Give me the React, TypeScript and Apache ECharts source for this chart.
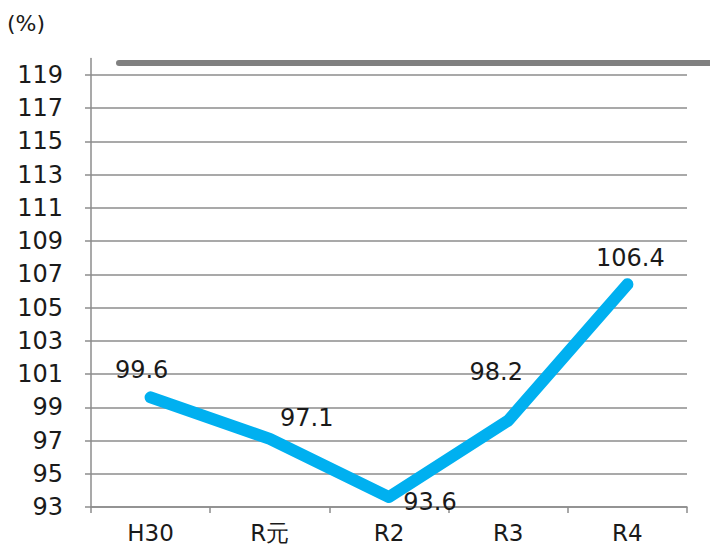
import React, { useEffect, useRef } from "react";
import * as echarts from "echarts";

const categories = ["H30", "R元", "R2", "R3", "R4"];
const values = [99.6, 97.1, 93.6, 98.2, 106.4];
const labelOffsets: [number, number][] = [
  [-9, -27],
  [37, -21],
  [41, 5],
  [-12, -49],
  [3, -26],
];
const yMin = 93;
const yMax = 120;
const yInterval = 2;
const unitLabel = "(%)";

const FONT = "DejaVu Sans";
const SYM = 2;

export default function App() {
  const ref = useRef<HTMLDivElement>(null);
  useEffect(() => {
    if (!ref.current) return;
    const chart = echarts.init(ref.current, null, { renderer: "svg" });
    chart.setOption({
      animation: false,
      backgroundColor: "#ffffff",
      grid: { left: 91, right: 23, top: 58.4, bottom: 41, containLabel: false },
      xAxis: {
        type: "category",
        data: categories,
        boundaryGap: true,
        axisLine: { lineStyle: { color: "#8c8c8c", width: 1.5 } },
        axisTick: { show: true, length: 6, lineStyle: { color: "#8c8c8c", width: 1.5 } },
        axisLabel: {
          color: "#1a1a1a",
          fontFamily: FONT,
          fontSize: 23,
          margin: 14,
          formatter: (v: string) => v,
        },
      },
      yAxis: {
        type: "value",
        min: yMin,
        max: yMax,
        interval: yInterval,
        axisLine: { show: true, lineStyle: { color: "#8c8c8c", width: 1.5 } },
        axisTick: { show: true, length: 6, lineStyle: { color: "#8c8c8c", width: 1.5 } },
        axisLabel: {
          color: "#1a1a1a",
          fontFamily: FONT,
          fontSize: 24,
          margin: 28,
          showMaxLabel: false,
          formatter: (v: number) => (v === yMax ? "" : String(v)),
        },
        splitLine: {
          show: true,
          showMaxLine: false,
          lineStyle: { color: "#8c8c8c", width: 1.5 },
        },
      },
      series: [
        {
          type: "line",
          data: values.map((v, i) => ({
            value: v,
            label: {
              show: true,
              position: [labelOffsets[i][0] + SYM / 2, labelOffsets[i][1] + SYM / 2],
              align: "center",
              verticalAlign: "middle",
            },
          })),
          symbol: "circle",
          symbolSize: SYM,
          showSymbol: true,
          itemStyle: { color: "#00b0f0" },
          lineStyle: { color: "#00b0f0", width: 12, cap: "round", join: "round" },
          label: {
            show: true,
            color: "#1a1a1a",
            fontFamily: FONT,
            fontSize: 24,
            formatter: (p: any) => Number(p.value).toFixed(1),
          },
          labelLayout: { hideOverlap: false },
        },
      ],
      graphic: [
        {
          type: "text",
          left: 7,
          top: 12,
          style: { text: unitLabel, fontFamily: FONT, fontSize: 22, fill: "#1a1a1a" },
        },
        {
          type: "line",
          shape: { x1: 119, y1: 63, x2: 712, y2: 63 },
          style: { stroke: "#808080", lineWidth: 6, lineCap: "round" },
        },
      ],
    });
    return () => chart.dispose();
  }, []);
  return <div ref={ref} style={{ width: 710, height: 548, position: "absolute", left: 0, top: 0 }} />;
}
